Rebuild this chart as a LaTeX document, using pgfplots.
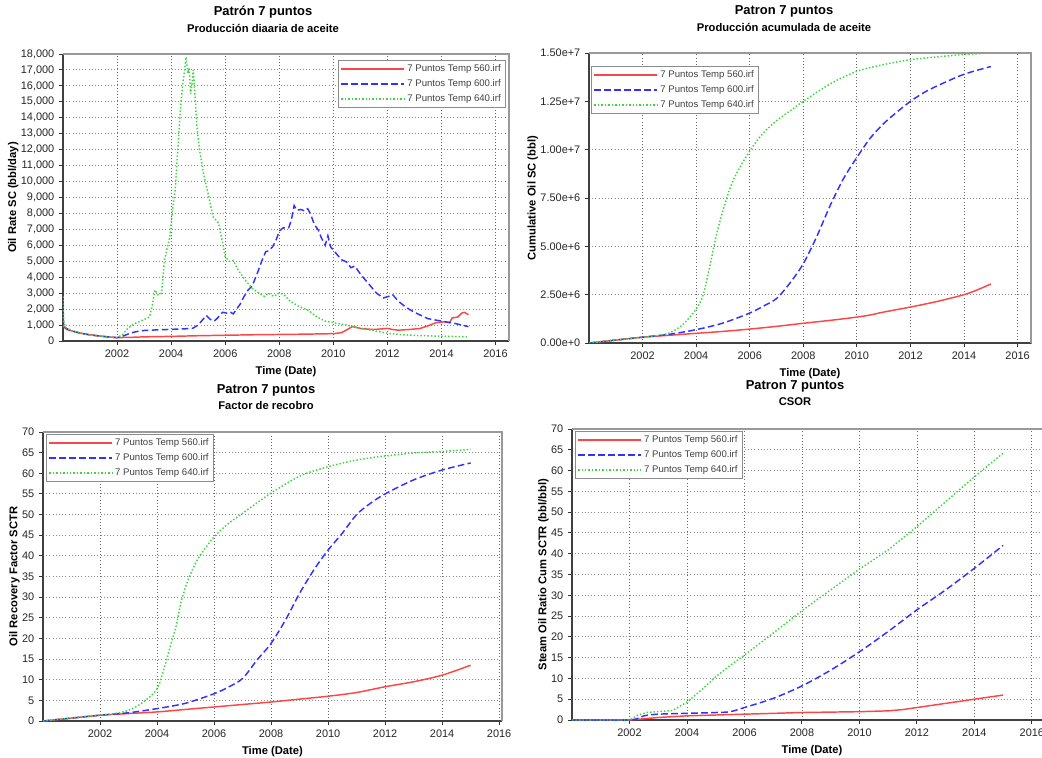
\documentclass[border=0pt]{standalone}
\usepackage{pgfplots}
\pgfplotsset{compat=1.18}
\usepackage{fontspec}
\setmainfont{Liberation Sans}
\definecolor{cred}{RGB}{255,70,70}
\definecolor{cblue}{RGB}{50,50,255}
\definecolor{cgreen}{RGB}{60,215,60}
\pgfplotsset{
 base/.style={
  scale only axis, anchor=south west, xmin=2000, ymin=0,
  xtick={2002,2004,...,2016},
  xticklabel style={/pgf/number format/1000 sep={}},
  scaled ticks=false,
  /pgf/number format/assume math mode=true,
  tick label style={font=\fontsize{8.2}{9}\selectfont, text=black!85},
  label style={font=\bfseries\fontsize{8.4}{10}\selectfont},
  ylabel shift=-5pt,
  xlabel={Time (Date)},
  xmajorgrids, ymajorgrids,
  x grid style={black!60, dotted, line width=0.6pt},
  y grid style={black!45, dotted, line width=0.7pt},
  axis x line*=bottom, axis y line*=left,
  axis line style={black!75, line width=1.2pt, -},
  tick align=outside, major tick length=3pt,
  major tick style={black!80, line width=0.7pt},
  clip mode=individual,
  legend cell align=left,
  legend image code/.code={\draw[##1] (0pt,0pt) -- (47pt,0pt);},
  legend style={draw=black!45, line width=0.7pt, fill=white, font=\fontsize{7.2}{8}\selectfont, text=black!75, inner xsep=1.5pt, inner ysep=1pt, row sep=0.5pt},
 },
 s560/.style={cred, line width=1.1pt},
 s600/.style={cblue, line width=1.1pt, dash pattern=on 5pt off 2.5pt},
 s640/.style={cgreen, line width=1.1pt, dash pattern=on 1.1pt off 1.5pt},
}
\newcommand{\frameTR}{\draw[black!40, line width=1.2pt] (rel axis cs:0,1) -- (rel axis cs:1,1) -- (rel axis cs:1,0);}
\begin{document}
\begin{tikzpicture}[x=0.75pt,y=0.75pt]
\useasboundingbox (0,0) rectangle (1042,757);
% titles
\begin{scope}[every node/.style={font=\bfseries\fontsize{9.7}{11}\selectfont}]
\node at (263,745) {Patrón 7 puntos};
\node at (784,746) {Patron 7 puntos};
\node at (266,367) {Patron 7 puntos};
\node at (795,371) {Patron 7 puntos};
\end{scope}
\begin{scope}[every node/.style={font=\bfseries\fontsize{8.4}{10}\selectfont}]
\node at (263,729) {Producción diaaria de aceite};
\node at (784,730) {Producción acumulada de aceite};
\node at (266,351) {Factor de recobro};
\node at (795,355) {CSOR};
\end{scope}

% ---------- Oil rate ----------
\begin{axis}[base, at={(47.25pt,312pt)}, width=334.5pt, height=215.25pt,
  xmax=2016.5, ymax=18000, ytick={0,1000,...,18000},
  yticklabel style={/pgf/number format/fixed, /pgf/number format/1000 sep={,}},
  ylabel={Oil Rate SC (bbl/day)},
  legend style={at={(0.993,0.979)}, anchor=north east}]
\addplot[s560] coordinates {(2000,1000)(2000.05,850)(2000.15,720)(2000.4,600)(2000.7,480)(2001,390)(2001.5,290)(2002,210)(2002.5,230)(2003,260)(2004,290)(2005,330)(2006,360)(2007,390)(2008,410)(2009,430)(2010,460)(2010.3,520)(2010.5,700)(2010.7,900)(2010.85,850)(2011,780)(2011.5,720)(2012,790)(2012.2,720)(2012.4,680)(2012.8,720)(2013.2,780)(2013.5,950)(2013.8,1150)(2014.1,1200)(2014.3,1150)(2014.4,1450)(2014.6,1500)(2014.75,1750)(2014.85,1800)(2015,1650)};
\addplot[s600] coordinates {(2000,1500)(2000.03,1000)(2000.1,800)(2000.3,650)(2000.6,500)(2001,380)(2001.5,280)(2002,210)(2002.25,330)(2002.5,500)(2002.75,600)(2003,660)(2003.5,700)(2004,730)(2004.5,760)(2004.8,800)(2005,1000)(2005.2,1400)(2005.3,1600)(2005.45,1350)(2005.6,1250)(2005.75,1500)(2005.9,1800)(2006.05,1750)(2006.2,1800)(2006.3,1700)(2006.4,1950)(2006.55,2300)(2006.7,2800)(2006.85,3200)(2007,3450)(2007.2,4300)(2007.35,5000)(2007.5,5600)(2007.6,5650)(2007.75,5900)(2007.9,6400)(2008,6900)(2008.15,7100)(2008.35,7100)(2008.45,7600)(2008.55,8500)(2008.65,8200)(2008.8,8250)(2008.95,8150)(2009.05,8300)(2009.15,8000)(2009.3,7300)(2009.45,6950)(2009.55,6500)(2009.7,6000)(2009.8,6600)(2009.9,5900)(2010.1,5500)(2010.3,5100)(2010.5,4950)(2010.65,4600)(2010.8,4700)(2011,4200)(2011.3,3600)(2011.6,3000)(2011.85,2700)(2012.05,2800)(2012.2,2900)(2012.4,2500)(2012.7,2100)(2013,1800)(2013.5,1400)(2014,1250)(2014.5,1100)(2015,900)};
\addplot[s640] coordinates {(2000,2800)(2000.03,1200)(2000.1,850)(2000.3,650)(2000.6,500)(2001,380)(2001.5,280)(2002,210)(2002.2,400)(2002.4,800)(2002.6,1050)(2002.8,1200)(2003,1350)(2003.2,1500)(2003.3,2200)(2003.4,3200)(2003.5,2900)(2003.65,3000)(2003.75,5000)(2003.85,5800)(2003.95,6500)(2004.05,8200)(2004.15,9500)(2004.25,12000)(2004.32,14000)(2004.42,16000)(2004.5,17000)(2004.55,17800)(2004.62,16800)(2004.67,17100)(2004.72,15500)(2004.78,16200)(2004.82,17000)(2004.88,15500)(2004.95,13500)(2005.05,12000)(2005.2,10500)(2005.4,9000)(2005.55,7800)(2005.75,7400)(2005.9,6200)(2006,5300)(2006.15,5000)(2006.3,5050)(2006.5,4400)(2006.75,3800)(2007,3300)(2007.25,3000)(2007.45,2800)(2007.6,3000)(2007.8,2800)(2008,3000)(2008.15,2950)(2008.4,2500)(2008.7,2200)(2009.1,1900)(2009.4,1500)(2009.7,1250)(2010,1150)(2010.5,1000)(2011,800)(2011.5,650)(2012,480)(2012.5,400)(2013,350)(2014,300)(2015,260)};
\legend{7 Puntos Temp 560.irf,7 Puntos Temp 600.irf,7 Puntos Temp 640.irf}
\frameTR
\end{axis}

% ---------- Cumulative ----------
\begin{axis}[base, at={(441.75pt,310.5pt)}, width=331.5pt, height=217.5pt,
  xmax=2016.5, ymax=1.5e7, ytick={0,2.5e6,5e6,7.5e6,1e7,1.25e7,1.5e7},
  yticklabels={0.00e+0,2.50e+6,5.00e+6,7.50e+6,1.00e+7,1.25e+7,1.50e+7},
  ylabel={Cumulative Oil SC (bbl)},
  legend style={at={(0.005,0.955)}, anchor=north west}]
\addplot[s560, smooth] coordinates {(2000,0)(2001,0.15e6)(2002,0.3e6)(2003,0.4e6)(2004,0.5e6)(2005,0.6e6)(2006,0.72e6)(2007,0.86e6)(2008,1.02e6)(2009,1.17e6)(2010,1.34e6)(2010.5,1.45e6)(2011,1.6e6)(2012,1.86e6)(2013,2.15e6)(2014,2.5e6)(2014.5,2.75e6)(2015,3.05e6)};
\addplot[s600, smooth] coordinates {(2000,0)(2001,0.15e6)(2002,0.3e6)(2003,0.45e6)(2004,0.69e6)(2005,1.03e6)(2006,1.55e6)(2006.5,1.9e6)(2007,2.3e6)(2007.5,3.1e6)(2008,4.1e6)(2008.5,5.5e6)(2009,7.1e6)(2009.5,8.5e6)(2010,9.6e6)(2010.5,10.6e6)(2011,11.35e6)(2011.5,11.95e6)(2012,12.5e6)(2012.5,12.95e6)(2013,13.3e6)(2014,13.9e6)(2015,14.3e6)};
\addplot[s640, smooth] coordinates {(2000,0)(2001,0.15e6)(2002,0.3e6)(2002.5,0.38e6)(2003,0.52e6)(2003.5,0.95e6)(2004,1.75e6)(2004.25,2.45e6)(2004.5,3.9e6)(2004.75,5.55e6)(2005,6.85e6)(2005.25,7.95e6)(2005.5,8.75e6)(2006,9.93e6)(2006.5,10.85e6)(2007,11.5e6)(2007.5,12.0e6)(2008,12.5e6)(2009,13.4e6)(2010,14.05e6)(2011,14.4e6)(2012,14.65e6)(2013,14.8e6)(2014,14.92e6)(2015,15.0e6)};
\legend{7 Puntos Temp 560.irf,7 Puntos Temp 600.irf,7 Puntos Temp 640.irf}
\frameTR
\end{axis}

% ---------- Recovery factor ----------
\begin{axis}[base, at={(32.25pt,27pt)}, width=344.25pt, height=216.75pt,
  xmax=2016.1, ymax=70, ytick={0,5,...,70},
  ylabel={Oil Recovery Factor SCTR},
  legend style={at={(0.0065,0.993)}, anchor=north west}]
\addplot[s560, smooth] coordinates {(2000,0)(2001,0.7)(2002,1.4)(2003,1.8)(2004,2.2)(2005,2.8)(2006,3.4)(2007,4.0)(2008,4.6)(2009,5.3)(2010,6.0)(2011,6.9)(2012,8.3)(2013,9.5)(2014,11.1)(2015,13.5)};
\addplot[s600, smooth] coordinates {(2000,0)(2001,0.7)(2002,1.4)(2003,2.0)(2004,3.0)(2005,4.3)(2006,6.6)(2006.5,8.2)(2007,10.3)(2007.5,14.7)(2008,18.8)(2008.5,24.4)(2009,30.9)(2009.5,36.6)(2010,41.4)(2010.5,45.5)(2011,50.0)(2011.5,52.8)(2012,55.0)(2013,58.4)(2014,60.8)(2015,62.5)};
\addplot[s640, smooth] coordinates {(2000,0)(2001,0.7)(2002,1.4)(2002.5,1.8)(2003,2.6)(2003.5,4.5)(2004,7.8)(2004.3,14)(2004.5,19)(2004.67,23)(2004.85,29)(2005.08,34)(2005.3,37.5)(2005.5,40)(2006,44.6)(2006.5,47.8)(2007,50.3)(2007.5,52.8)(2008,55.2)(2009,59.3)(2010,61.6)(2011,63.2)(2012,64.2)(2013,64.9)(2014,65.3)(2015,65.8)};
\legend{7 Puntos Temp 560.irf,7 Puntos Temp 600.irf,7 Puntos Temp 640.irf}
\frameTR
\end{axis}

% ---------- CSOR ----------
\begin{axis}[base, at={(429pt,27.75pt)}, width=360pt, height=218.25pt,
  xmax=2016.7, ymax=70, ytick={0,5,...,70},
  ylabel={Steam Oil Ratio Cum SCTR (bbl/bbl)},
  legend style={at={(0.006,0.993)}, anchor=north west}]
\addplot[s560] coordinates {(2000,0)(2002,0)(2003,0.6)(2004,1.0)(2005,1.2)(2006,1.4)(2007,1.6)(2008,1.8)(2009,1.9)(2010,2.0)(2011,2.2)(2011.5,2.5)(2012,3.0)(2012.5,3.5)(2013,4.0)(2014,5.0)(2015,6.0)};
\addplot[s600, smooth] coordinates {(2000,0)(2002,0)(2002.5,1.0)(2003,1.4)(2004,1.6)(2005,1.8)(2005.5,2.0)(2006,3.0)(2007,5.2)(2008,8.2)(2009,12)(2010,16.4)(2011,21.3)(2012,26.5)(2013,31.3)(2014,36.5)(2015,42)};
\addplot[s640] coordinates {(2000,0)(2002,0)(2002.3,1.2)(2002.6,1.8)(2003,2.0)(2003.5,2.3)(2004,4.3)(2004.5,7.2)(2005,10.4)(2005.5,13.1)(2006,15.6)(2007,20.9)(2008,26.3)(2009,31.3)(2010,36.3)(2011,40.9)(2012,46.5)(2013,52.5)(2014,58.5)(2015,64.2)};
\legend{7 Puntos Temp 560.irf,7 Puntos Temp 600.irf,7 Puntos Temp 640.irf}
\frameTR
\end{axis}
\end{tikzpicture}
\end{document}
